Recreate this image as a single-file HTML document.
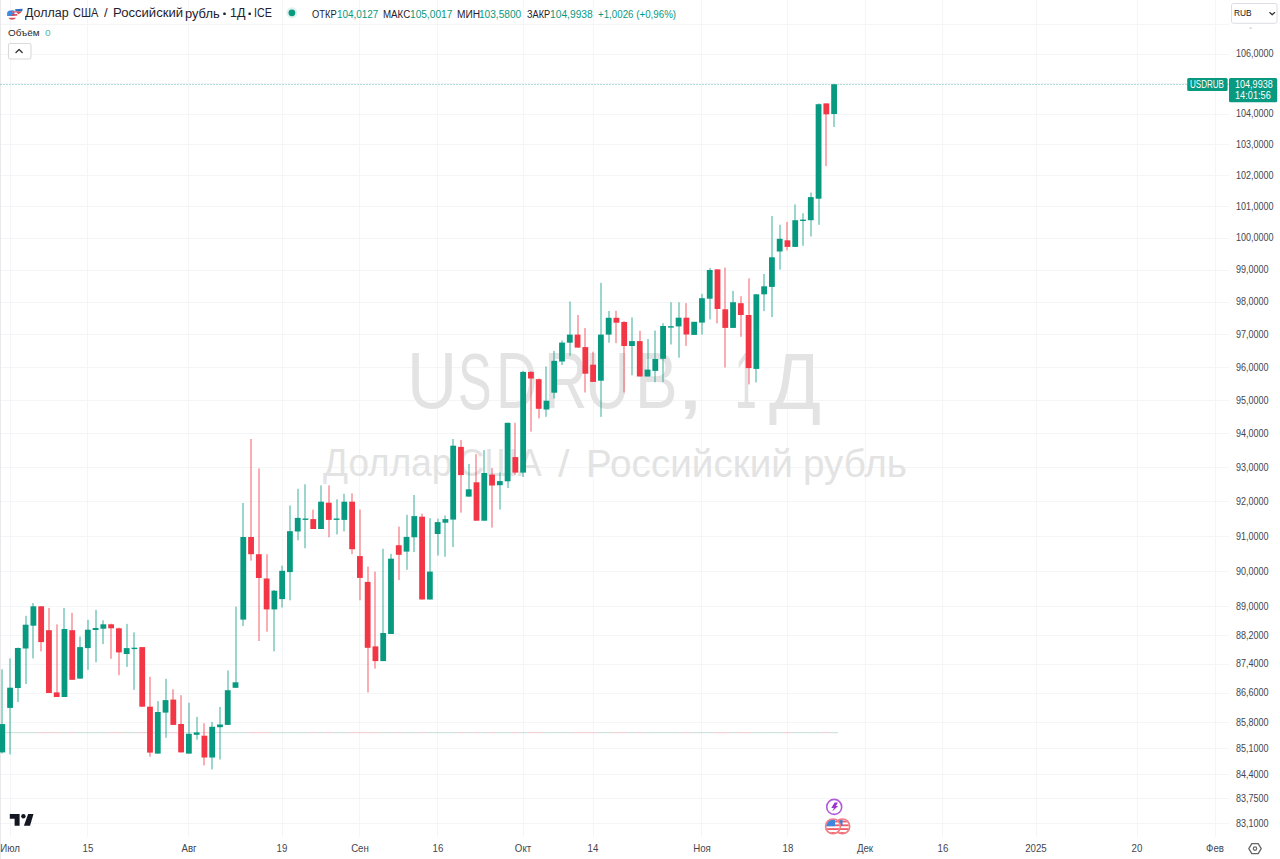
<!DOCTYPE html>
<html><head><meta charset="utf-8">
<style>
html,body{margin:0;padding:0;width:1280px;height:859px;overflow:hidden;background:#fff;}
body{position:relative;font-family:"Liberation Sans",sans-serif;color:#131722;}
svg{position:absolute;left:0;top:0;}
div{position:absolute;white-space:nowrap;}
.pl{left:1236px;height:12px;line-height:12px;font-size:11px;color:#434651;transform-origin:0 50%;transform:scaleX(0.82);}
.tl{top:842px;width:60px;text-align:center;font-size:11px;line-height:13px;color:#434651;transform:scaleX(0.88);}
.wm{color:#e3e3e3;transform-origin:0 0;}
.title{left:25px;top:6.2px;font-size:12.5px;line-height:15px;color:#222;transform-origin:0 0;transform:scaleX(0.99);}
.tok{transform-origin:0 0;}
.lab{color:#222} .val{color:#089981}
</style></head><body>
<svg width="1280" height="859" viewBox="0 0 1280 859">
<line x1="0" y1="24.5" x2="1229" y2="24.5" stroke="#f4f5f7" stroke-width="1"/>
<line x1="0" y1="54.5" x2="1229" y2="54.5" stroke="#f4f5f7" stroke-width="1"/>
<line x1="0" y1="83.5" x2="1229" y2="83.5" stroke="#f4f5f7" stroke-width="1"/>
<line x1="0" y1="114.5" x2="1229" y2="114.5" stroke="#f4f5f7" stroke-width="1"/>
<line x1="0" y1="144.5" x2="1229" y2="144.5" stroke="#f4f5f7" stroke-width="1"/>
<line x1="0" y1="175.5" x2="1229" y2="175.5" stroke="#f4f5f7" stroke-width="1"/>
<line x1="0" y1="206.5" x2="1229" y2="206.5" stroke="#f4f5f7" stroke-width="1"/>
<line x1="0" y1="238.5" x2="1229" y2="238.5" stroke="#f4f5f7" stroke-width="1"/>
<line x1="0" y1="270.5" x2="1229" y2="270.5" stroke="#f4f5f7" stroke-width="1"/>
<line x1="0" y1="302.5" x2="1229" y2="302.5" stroke="#f4f5f7" stroke-width="1"/>
<line x1="0" y1="334.5" x2="1229" y2="334.5" stroke="#f4f5f7" stroke-width="1"/>
<line x1="0" y1="367.5" x2="1229" y2="367.5" stroke="#f4f5f7" stroke-width="1"/>
<line x1="0" y1="400.5" x2="1229" y2="400.5" stroke="#f4f5f7" stroke-width="1"/>
<line x1="0" y1="433.5" x2="1229" y2="433.5" stroke="#f4f5f7" stroke-width="1"/>
<line x1="0" y1="467.5" x2="1229" y2="467.5" stroke="#f4f5f7" stroke-width="1"/>
<line x1="0" y1="501.5" x2="1229" y2="501.5" stroke="#f4f5f7" stroke-width="1"/>
<line x1="0" y1="536.5" x2="1229" y2="536.5" stroke="#f4f5f7" stroke-width="1"/>
<line x1="0" y1="571.5" x2="1229" y2="571.5" stroke="#f4f5f7" stroke-width="1"/>
<line x1="0" y1="606.5" x2="1229" y2="606.5" stroke="#f4f5f7" stroke-width="1"/>
<line x1="0" y1="635.5" x2="1229" y2="635.5" stroke="#f4f5f7" stroke-width="1"/>
<line x1="0" y1="664.5" x2="1229" y2="664.5" stroke="#f4f5f7" stroke-width="1"/>
<line x1="0" y1="693.5" x2="1229" y2="693.5" stroke="#f4f5f7" stroke-width="1"/>
<line x1="0" y1="722.5" x2="1229" y2="722.5" stroke="#f4f5f7" stroke-width="1"/>
<line x1="0" y1="748.5" x2="1229" y2="748.5" stroke="#f4f5f7" stroke-width="1"/>
<line x1="0" y1="774.5" x2="1229" y2="774.5" stroke="#f4f5f7" stroke-width="1"/>
<line x1="0" y1="798.5" x2="1229" y2="798.5" stroke="#f4f5f7" stroke-width="1"/>
<line x1="0" y1="823.5" x2="1229" y2="823.5" stroke="#f4f5f7" stroke-width="1"/>
<line x1="10.5" y1="0" x2="10.5" y2="837" stroke="#f4f5f7" stroke-width="1"/>
<line x1="87.5" y1="0" x2="87.5" y2="837" stroke="#f4f5f7" stroke-width="1"/>
<line x1="188.5" y1="0" x2="188.5" y2="837" stroke="#f4f5f7" stroke-width="1"/>
<line x1="282.5" y1="0" x2="282.5" y2="837" stroke="#f4f5f7" stroke-width="1"/>
<line x1="359.5" y1="0" x2="359.5" y2="837" stroke="#f4f5f7" stroke-width="1"/>
<line x1="437.5" y1="0" x2="437.5" y2="837" stroke="#f4f5f7" stroke-width="1"/>
<line x1="523.5" y1="0" x2="523.5" y2="837" stroke="#f4f5f7" stroke-width="1"/>
<line x1="593.5" y1="0" x2="593.5" y2="837" stroke="#f4f5f7" stroke-width="1"/>
<line x1="701.5" y1="0" x2="701.5" y2="837" stroke="#f4f5f7" stroke-width="1"/>
<line x1="787.5" y1="0" x2="787.5" y2="837" stroke="#f4f5f7" stroke-width="1"/>
<line x1="865.5" y1="0" x2="865.5" y2="837" stroke="#f4f5f7" stroke-width="1"/>
<line x1="942.5" y1="0" x2="942.5" y2="837" stroke="#f4f5f7" stroke-width="1"/>
<line x1="1036.5" y1="0" x2="1036.5" y2="837" stroke="#f4f5f7" stroke-width="1"/>
<line x1="1137.5" y1="0" x2="1137.5" y2="837" stroke="#f4f5f7" stroke-width="1"/>
<line x1="1215.5" y1="0" x2="1215.5" y2="837" stroke="#f4f5f7" stroke-width="1"/>
<line x1="0.5" y1="0" x2="0.5" y2="859" stroke="#e9e9ec" stroke-width="1"/>
</svg>
<div class="wm" style="left:406.5px;top:329.3px;font-size:80px;line-height:104px;transform:scaleX(0.867)">U</div>
<div class="wm" style="left:457.5px;top:329.5px;font-size:80px;line-height:104px;transform:scaleX(0.630)">S</div>
<div class="wm" style="left:495.7px;top:329.3px;font-size:80px;line-height:104px;transform:scaleX(0.717)">D</div>
<div class="wm" style="left:543.9px;top:329.3px;font-size:80px;line-height:104px;transform:scaleX(0.750)">R</div>
<div class="wm" style="left:585.0px;top:329.3px;font-size:80px;line-height:104px;transform:scaleX(0.780)">U</div>
<div class="wm" style="left:634.9px;top:329.3px;font-size:80px;line-height:104px;transform:scaleX(0.798)">B</div>
<div class="wm" style="left:675.4px;top:330.0px;font-size:80px;line-height:104px;transform:scaleX(1.375)">,</div>
<div class="wm" style="left:735.1px;top:329.3px;font-size:80px;line-height:104px;transform:scaleX(0.486)">1</div>
<div class="wm" style="left:768.9px;top:330.0px;font-size:80px;line-height:104px;transform:scaleX(0.960)">Д</div>
<div class="wm" style="left:322.9px;top:438.2px;font-size:39px;line-height:50px;transform:scaleX(0.946)">Доллар</div>
<div class="wm" style="left:458.1px;top:438.2px;font-size:39px;line-height:50px;transform:scaleX(0.932)">США</div>
<div class="wm" style="left:558.4px;top:438.5px;font-size:39px;line-height:50px;transform:scaleX(1.064)">/</div>
<div class="wm" style="left:585.9px;top:438.5px;font-size:39px;line-height:50px;transform:scaleX(0.991)">Российский</div>
<div class="wm" style="left:803.0px;top:438.5px;font-size:39px;line-height:50px;transform:scaleX(0.990)">рубль</div>
<svg width="1280" height="859" viewBox="0 0 1280 859">
<rect x="-1.61" y="732" width="7.8" height="1.2" fill="#d0e2dd"/>
<rect x="6.16" y="732" width="7.8" height="1.2" fill="#d0e2dd"/>
<rect x="13.93" y="732" width="7.8" height="1.2" fill="#d0e2dd"/>
<rect x="21.71" y="732" width="7.8" height="1.2" fill="#d0e2dd"/>
<rect x="29.48" y="732" width="7.8" height="1.2" fill="#d0e2dd"/>
<rect x="37.26" y="732" width="7.8" height="1.2" fill="#f3d2d5"/>
<rect x="45.03" y="732" width="7.8" height="1.2" fill="#f3d2d5"/>
<rect x="52.80" y="732" width="7.8" height="1.2" fill="#f3d2d5"/>
<rect x="60.58" y="732" width="7.8" height="1.2" fill="#d0e2dd"/>
<rect x="68.35" y="732" width="7.8" height="1.2" fill="#f3d2d5"/>
<rect x="76.13" y="732" width="7.8" height="1.2" fill="#d0e2dd"/>
<rect x="83.90" y="732" width="7.8" height="1.2" fill="#d0e2dd"/>
<rect x="91.67" y="732" width="7.8" height="1.2" fill="#d0e2dd"/>
<rect x="99.45" y="732" width="7.8" height="1.2" fill="#d0e2dd"/>
<rect x="107.22" y="732" width="7.8" height="1.2" fill="#f3d2d5"/>
<rect x="115.00" y="732" width="7.8" height="1.2" fill="#f3d2d5"/>
<rect x="122.77" y="732" width="7.8" height="1.2" fill="#d0e2dd"/>
<rect x="130.54" y="732" width="7.8" height="1.2" fill="#d0e2dd"/>
<rect x="138.32" y="732" width="7.8" height="1.2" fill="#f3d2d5"/>
<rect x="146.09" y="732" width="7.8" height="1.2" fill="#f3d2d5"/>
<rect x="153.87" y="732" width="7.8" height="1.2" fill="#d0e2dd"/>
<rect x="161.64" y="732" width="7.8" height="1.2" fill="#d0e2dd"/>
<rect x="169.41" y="732" width="7.8" height="1.2" fill="#f3d2d5"/>
<rect x="177.19" y="732" width="7.8" height="1.2" fill="#f3d2d5"/>
<rect x="184.96" y="732" width="7.8" height="1.2" fill="#d0e2dd"/>
<rect x="192.74" y="732" width="7.8" height="1.2" fill="#d0e2dd"/>
<rect x="200.51" y="732" width="7.8" height="1.2" fill="#f3d2d5"/>
<rect x="208.28" y="732" width="7.8" height="1.2" fill="#d0e2dd"/>
<rect x="216.06" y="732" width="7.8" height="1.2" fill="#d0e2dd"/>
<rect x="223.83" y="732" width="7.8" height="1.2" fill="#d0e2dd"/>
<rect x="231.61" y="732" width="7.8" height="1.2" fill="#d0e2dd"/>
<rect x="239.38" y="732" width="7.8" height="1.2" fill="#d0e2dd"/>
<rect x="247.15" y="732" width="7.8" height="1.2" fill="#f3d2d5"/>
<rect x="254.93" y="732" width="7.8" height="1.2" fill="#f3d2d5"/>
<rect x="262.70" y="732" width="7.8" height="1.2" fill="#f3d2d5"/>
<rect x="270.48" y="732" width="7.8" height="1.2" fill="#d0e2dd"/>
<rect x="278.25" y="732" width="7.8" height="1.2" fill="#d0e2dd"/>
<rect x="286.02" y="732" width="7.8" height="1.2" fill="#d0e2dd"/>
<rect x="293.80" y="732" width="7.8" height="1.2" fill="#d0e2dd"/>
<rect x="301.57" y="732" width="7.8" height="1.2" fill="#d0e2dd"/>
<rect x="309.35" y="732" width="7.8" height="1.2" fill="#f3d2d5"/>
<rect x="317.12" y="732" width="7.8" height="1.2" fill="#d0e2dd"/>
<rect x="324.89" y="732" width="7.8" height="1.2" fill="#f3d2d5"/>
<rect x="332.67" y="732" width="7.8" height="1.2" fill="#d0e2dd"/>
<rect x="340.44" y="732" width="7.8" height="1.2" fill="#d0e2dd"/>
<rect x="348.22" y="732" width="7.8" height="1.2" fill="#f3d2d5"/>
<rect x="355.99" y="732" width="7.8" height="1.2" fill="#f3d2d5"/>
<rect x="363.76" y="732" width="7.8" height="1.2" fill="#f3d2d5"/>
<rect x="371.54" y="732" width="7.8" height="1.2" fill="#f3d2d5"/>
<rect x="379.31" y="732" width="7.8" height="1.2" fill="#d0e2dd"/>
<rect x="387.09" y="732" width="7.8" height="1.2" fill="#d0e2dd"/>
<rect x="394.86" y="732" width="7.8" height="1.2" fill="#f3d2d5"/>
<rect x="402.63" y="732" width="7.8" height="1.2" fill="#d0e2dd"/>
<rect x="410.41" y="732" width="7.8" height="1.2" fill="#d0e2dd"/>
<rect x="418.18" y="732" width="7.8" height="1.2" fill="#f3d2d5"/>
<rect x="425.96" y="732" width="7.8" height="1.2" fill="#d0e2dd"/>
<rect x="433.73" y="732" width="7.8" height="1.2" fill="#d0e2dd"/>
<rect x="441.50" y="732" width="7.8" height="1.2" fill="#d0e2dd"/>
<rect x="449.28" y="732" width="7.8" height="1.2" fill="#d0e2dd"/>
<rect x="457.05" y="732" width="7.8" height="1.2" fill="#f3d2d5"/>
<rect x="464.83" y="732" width="7.8" height="1.2" fill="#d0e2dd"/>
<rect x="472.60" y="732" width="7.8" height="1.2" fill="#f3d2d5"/>
<rect x="480.37" y="732" width="7.8" height="1.2" fill="#d0e2dd"/>
<rect x="488.15" y="732" width="7.8" height="1.2" fill="#f3d2d5"/>
<rect x="495.92" y="732" width="7.8" height="1.2" fill="#d0e2dd"/>
<rect x="503.70" y="732" width="7.8" height="1.2" fill="#d0e2dd"/>
<rect x="511.47" y="732" width="7.8" height="1.2" fill="#f3d2d5"/>
<rect x="519.24" y="732" width="7.8" height="1.2" fill="#d0e2dd"/>
<rect x="527.02" y="732" width="7.8" height="1.2" fill="#f3d2d5"/>
<rect x="534.79" y="732" width="7.8" height="1.2" fill="#f3d2d5"/>
<rect x="542.57" y="732" width="7.8" height="1.2" fill="#d0e2dd"/>
<rect x="550.34" y="732" width="7.8" height="1.2" fill="#d0e2dd"/>
<rect x="558.11" y="732" width="7.8" height="1.2" fill="#d0e2dd"/>
<rect x="565.89" y="732" width="7.8" height="1.2" fill="#d0e2dd"/>
<rect x="573.66" y="732" width="7.8" height="1.2" fill="#f3d2d5"/>
<rect x="581.44" y="732" width="7.8" height="1.2" fill="#f3d2d5"/>
<rect x="589.21" y="732" width="7.8" height="1.2" fill="#f3d2d5"/>
<rect x="596.98" y="732" width="7.8" height="1.2" fill="#d0e2dd"/>
<rect x="604.76" y="732" width="7.8" height="1.2" fill="#d0e2dd"/>
<rect x="612.53" y="732" width="7.8" height="1.2" fill="#f3d2d5"/>
<rect x="620.31" y="732" width="7.8" height="1.2" fill="#f3d2d5"/>
<rect x="628.08" y="732" width="7.8" height="1.2" fill="#d0e2dd"/>
<rect x="635.85" y="732" width="7.8" height="1.2" fill="#f3d2d5"/>
<rect x="643.63" y="732" width="7.8" height="1.2" fill="#d0e2dd"/>
<rect x="651.40" y="732" width="7.8" height="1.2" fill="#d0e2dd"/>
<rect x="659.18" y="732" width="7.8" height="1.2" fill="#d0e2dd"/>
<rect x="666.95" y="732" width="7.8" height="1.2" fill="#d0e2dd"/>
<rect x="674.72" y="732" width="7.8" height="1.2" fill="#d0e2dd"/>
<rect x="682.50" y="732" width="7.8" height="1.2" fill="#f3d2d5"/>
<rect x="690.27" y="732" width="7.8" height="1.2" fill="#d0e2dd"/>
<rect x="698.05" y="732" width="7.8" height="1.2" fill="#d0e2dd"/>
<rect x="705.82" y="732" width="7.8" height="1.2" fill="#d0e2dd"/>
<rect x="713.59" y="732" width="7.8" height="1.2" fill="#f3d2d5"/>
<rect x="721.37" y="732" width="7.8" height="1.2" fill="#f3d2d5"/>
<rect x="729.14" y="732" width="7.8" height="1.2" fill="#d0e2dd"/>
<rect x="736.92" y="732" width="7.8" height="1.2" fill="#f3d2d5"/>
<rect x="744.69" y="732" width="7.8" height="1.2" fill="#f3d2d5"/>
<rect x="752.46" y="732" width="7.8" height="1.2" fill="#d0e2dd"/>
<rect x="760.24" y="732" width="7.8" height="1.2" fill="#d0e2dd"/>
<rect x="768.01" y="732" width="7.8" height="1.2" fill="#d0e2dd"/>
<rect x="775.79" y="732" width="7.8" height="1.2" fill="#d0e2dd"/>
<rect x="783.56" y="732" width="7.8" height="1.2" fill="#f3d2d5"/>
<rect x="791.33" y="732" width="7.8" height="1.2" fill="#d0e2dd"/>
<rect x="799.11" y="732" width="7.8" height="1.2" fill="#d0e2dd"/>
<rect x="806.88" y="732" width="7.8" height="1.2" fill="#d0e2dd"/>
<rect x="814.66" y="732" width="7.8" height="1.2" fill="#d0e2dd"/>
<rect x="822.43" y="732" width="7.8" height="1.2" fill="#f3d2d5"/>
<rect x="830.20" y="732" width="7.8" height="1.2" fill="#d0e2dd"/>
<line x1="0" y1="84.5" x2="1229" y2="84.5" stroke="#089981" stroke-width="1" stroke-dasharray="2 1" opacity="0.3"/>
<line x1="2" y1="669.3" x2="2" y2="753.4" stroke="#089981" stroke-width="1" opacity="0.8"/>
<rect x="-0.61" y="724.1" width="5.8" height="28.30" fill="#089981"/>
<line x1="10" y1="658.4" x2="10" y2="754.4" stroke="#089981" stroke-width="1" opacity="0.8"/>
<rect x="7.16" y="687.7" width="5.8" height="20.20" fill="#089981"/>
<line x1="18" y1="647.5" x2="18" y2="702.0" stroke="#089981" stroke-width="1" opacity="0.8"/>
<rect x="14.93" y="648.0" width="5.8" height="40.00" fill="#089981"/>
<line x1="26" y1="615.8" x2="26" y2="684.0" stroke="#089981" stroke-width="1" opacity="0.8"/>
<rect x="22.71" y="624.7" width="5.8" height="23.80" fill="#089981"/>
<line x1="33" y1="603.0" x2="33" y2="658.4" stroke="#089981" stroke-width="1" opacity="0.8"/>
<rect x="30.48" y="606.3" width="5.8" height="19.40" fill="#089981"/>
<line x1="41" y1="606.0" x2="41" y2="651.4" stroke="#f23645" stroke-width="1" opacity="0.8"/>
<rect x="38.26" y="606.3" width="5.8" height="35.80" fill="#f23645"/>
<line x1="49" y1="607.9" x2="49" y2="693.0" stroke="#f23645" stroke-width="1" opacity="0.8"/>
<rect x="46.03" y="630.2" width="5.8" height="62.80" fill="#f23645"/>
<line x1="57" y1="624.3" x2="57" y2="697.0" stroke="#f23645" stroke-width="1" opacity="0.8"/>
<rect x="53.80" y="692.4" width="5.8" height="4.60" fill="#f23645"/>
<line x1="64" y1="607.9" x2="64" y2="697.0" stroke="#089981" stroke-width="1" opacity="0.8"/>
<rect x="61.58" y="629.0" width="5.8" height="68.00" fill="#089981"/>
<line x1="72" y1="612.8" x2="72" y2="679.8" stroke="#f23645" stroke-width="1" opacity="0.8"/>
<rect x="69.35" y="630.2" width="5.8" height="49.60" fill="#f23645"/>
<line x1="80" y1="636.6" x2="80" y2="678.6" stroke="#089981" stroke-width="1" opacity="0.8"/>
<rect x="77.13" y="647.1" width="5.8" height="31.50" fill="#089981"/>
<line x1="88" y1="619.8" x2="88" y2="669.9" stroke="#089981" stroke-width="1" opacity="0.8"/>
<rect x="84.90" y="629.7" width="5.8" height="18.40" fill="#089981"/>
<line x1="96" y1="609.9" x2="96" y2="662.3" stroke="#089981" stroke-width="1" opacity="0.8"/>
<rect x="92.67" y="628.0" width="5.8" height="2.00" fill="#089981"/>
<line x1="103" y1="620.3" x2="103" y2="644.1" stroke="#089981" stroke-width="1" opacity="0.8"/>
<rect x="100.45" y="624.3" width="5.8" height="4.40" fill="#089981"/>
<line x1="111" y1="623.7" x2="111" y2="658.8" stroke="#f23645" stroke-width="1" opacity="0.8"/>
<rect x="108.22" y="624.3" width="5.8" height="4.00" fill="#f23645"/>
<line x1="119" y1="627.7" x2="119" y2="675.2" stroke="#f23645" stroke-width="1" opacity="0.8"/>
<rect x="116.00" y="628.3" width="5.8" height="24.10" fill="#f23645"/>
<line x1="127" y1="623.9" x2="127" y2="666.9" stroke="#089981" stroke-width="1" opacity="0.8"/>
<rect x="123.77" y="648.1" width="5.8" height="5.90" fill="#089981"/>
<line x1="134" y1="632.4" x2="134" y2="689.9" stroke="#089981" stroke-width="1" opacity="0.8"/>
<rect x="131.54" y="647.7" width="5.8" height="1.40" fill="#089981"/>
<line x1="142" y1="647.1" x2="142" y2="706.7" stroke="#f23645" stroke-width="1" opacity="0.8"/>
<rect x="139.32" y="647.1" width="5.8" height="59.60" fill="#f23645"/>
<line x1="150" y1="676.8" x2="150" y2="756.6" stroke="#f23645" stroke-width="1" opacity="0.8"/>
<rect x="147.09" y="706.7" width="5.8" height="45.90" fill="#f23645"/>
<line x1="158" y1="701.1" x2="158" y2="753.6" stroke="#089981" stroke-width="1" opacity="0.8"/>
<rect x="154.87" y="712.0" width="5.8" height="41.60" fill="#089981"/>
<line x1="166" y1="678.8" x2="166" y2="737.8" stroke="#089981" stroke-width="1" opacity="0.8"/>
<rect x="162.64" y="700.1" width="5.8" height="12.50" fill="#089981"/>
<line x1="173" y1="689.3" x2="173" y2="724.9" stroke="#f23645" stroke-width="1" opacity="0.8"/>
<rect x="170.41" y="699.6" width="5.8" height="25.30" fill="#f23645"/>
<line x1="181" y1="695.2" x2="181" y2="752.4" stroke="#f23645" stroke-width="1" opacity="0.8"/>
<rect x="178.19" y="724.0" width="5.8" height="28.40" fill="#f23645"/>
<line x1="189" y1="702.7" x2="189" y2="753.6" stroke="#089981" stroke-width="1" opacity="0.8"/>
<rect x="185.96" y="733.8" width="5.8" height="19.80" fill="#089981"/>
<line x1="197" y1="716.9" x2="197" y2="739.7" stroke="#089981" stroke-width="1" opacity="0.8"/>
<rect x="193.74" y="732.4" width="5.8" height="2.40" fill="#089981"/>
<line x1="204" y1="723.3" x2="204" y2="765.4" stroke="#f23645" stroke-width="1" opacity="0.8"/>
<rect x="201.51" y="735.7" width="5.8" height="21.80" fill="#f23645"/>
<line x1="212" y1="721.9" x2="212" y2="769.4" stroke="#089981" stroke-width="1" opacity="0.8"/>
<rect x="209.28" y="726.8" width="5.8" height="30.70" fill="#089981"/>
<line x1="220" y1="707.0" x2="220" y2="759.5" stroke="#089981" stroke-width="1" opacity="0.8"/>
<rect x="217.06" y="724.5" width="5.8" height="2.70" fill="#089981"/>
<line x1="228" y1="670.4" x2="228" y2="724.9" stroke="#089981" stroke-width="1" opacity="0.8"/>
<rect x="224.83" y="690.2" width="5.8" height="34.70" fill="#089981"/>
<line x1="236" y1="606.7" x2="236" y2="687.8" stroke="#089981" stroke-width="1" opacity="0.8"/>
<rect x="232.61" y="682.3" width="5.8" height="5.50" fill="#089981"/>
<line x1="243" y1="503.0" x2="243" y2="626.0" stroke="#089981" stroke-width="1" opacity="0.8"/>
<rect x="240.38" y="537.0" width="5.8" height="82.60" fill="#089981"/>
<line x1="251" y1="439.0" x2="251" y2="560.6" stroke="#f23645" stroke-width="1" opacity="0.8"/>
<rect x="248.15" y="537.0" width="5.8" height="17.20" fill="#f23645"/>
<line x1="259" y1="468.4" x2="259" y2="641.0" stroke="#f23645" stroke-width="1" opacity="0.8"/>
<rect x="255.93" y="554.2" width="5.8" height="23.80" fill="#f23645"/>
<line x1="267" y1="554.2" x2="267" y2="631.7" stroke="#f23645" stroke-width="1" opacity="0.8"/>
<rect x="263.70" y="578.5" width="5.8" height="30.90" fill="#f23645"/>
<line x1="274" y1="590.0" x2="274" y2="651.3" stroke="#089981" stroke-width="1" opacity="0.8"/>
<rect x="271.48" y="590.7" width="5.8" height="18.70" fill="#089981"/>
<line x1="282" y1="565.7" x2="282" y2="607.5" stroke="#089981" stroke-width="1" opacity="0.8"/>
<rect x="279.25" y="570.8" width="5.8" height="28.30" fill="#089981"/>
<line x1="290" y1="505.5" x2="290" y2="600.3" stroke="#089981" stroke-width="1" opacity="0.8"/>
<rect x="287.02" y="531.2" width="5.8" height="40.90" fill="#089981"/>
<line x1="298" y1="488.8" x2="298" y2="540.3" stroke="#089981" stroke-width="1" opacity="0.8"/>
<rect x="294.80" y="517.9" width="5.8" height="13.60" fill="#089981"/>
<line x1="305" y1="484.3" x2="305" y2="548.2" stroke="#089981" stroke-width="1" opacity="0.8"/>
<rect x="302.57" y="518.5" width="5.8" height="1.40" fill="#089981"/>
<line x1="313" y1="509.6" x2="313" y2="529.0" stroke="#f23645" stroke-width="1" opacity="0.8"/>
<rect x="310.35" y="519.1" width="5.8" height="9.90" fill="#f23645"/>
<line x1="321" y1="485.4" x2="321" y2="529.0" stroke="#089981" stroke-width="1" opacity="0.8"/>
<rect x="318.12" y="501.7" width="5.8" height="27.30" fill="#089981"/>
<line x1="329" y1="485.4" x2="329" y2="537.3" stroke="#f23645" stroke-width="1" opacity="0.8"/>
<rect x="325.89" y="502.7" width="5.8" height="17.20" fill="#f23645"/>
<line x1="337" y1="499.3" x2="337" y2="534.4" stroke="#089981" stroke-width="1" opacity="0.8"/>
<rect x="333.67" y="518.5" width="5.8" height="1.40" fill="#089981"/>
<line x1="344" y1="493.8" x2="344" y2="531.4" stroke="#089981" stroke-width="1" opacity="0.8"/>
<rect x="341.44" y="501.7" width="5.8" height="18.20" fill="#089981"/>
<line x1="352" y1="493.4" x2="352" y2="554.2" stroke="#f23645" stroke-width="1" opacity="0.8"/>
<rect x="349.22" y="501.7" width="5.8" height="47.50" fill="#f23645"/>
<line x1="360" y1="509.6" x2="360" y2="600.3" stroke="#f23645" stroke-width="1" opacity="0.8"/>
<rect x="356.99" y="556.1" width="5.8" height="21.80" fill="#f23645"/>
<line x1="368" y1="566.6" x2="368" y2="692.4" stroke="#f23645" stroke-width="1" opacity="0.8"/>
<rect x="364.76" y="581.9" width="5.8" height="65.90" fill="#f23645"/>
<line x1="375" y1="571.6" x2="375" y2="668.6" stroke="#f23645" stroke-width="1" opacity="0.8"/>
<rect x="372.54" y="646.4" width="5.8" height="14.70" fill="#f23645"/>
<line x1="383" y1="548.8" x2="383" y2="661.1" stroke="#089981" stroke-width="1" opacity="0.8"/>
<rect x="380.31" y="633.0" width="5.8" height="28.10" fill="#089981"/>
<line x1="391" y1="553.8" x2="391" y2="634.0" stroke="#089981" stroke-width="1" opacity="0.8"/>
<rect x="388.09" y="558.7" width="5.8" height="75.30" fill="#089981"/>
<line x1="399" y1="526.6" x2="399" y2="580.1" stroke="#f23645" stroke-width="1" opacity="0.8"/>
<rect x="395.86" y="545.2" width="5.8" height="9.60" fill="#f23645"/>
<line x1="407" y1="514.8" x2="407" y2="569.8" stroke="#089981" stroke-width="1" opacity="0.8"/>
<rect x="403.63" y="536.9" width="5.8" height="14.70" fill="#089981"/>
<line x1="414" y1="495.0" x2="414" y2="552.0" stroke="#089981" stroke-width="1" opacity="0.8"/>
<rect x="411.41" y="516.1" width="5.8" height="21.20" fill="#089981"/>
<line x1="422" y1="513.6" x2="422" y2="599.5" stroke="#f23645" stroke-width="1" opacity="0.8"/>
<rect x="419.18" y="516.7" width="5.8" height="82.80" fill="#f23645"/>
<line x1="430" y1="518.1" x2="430" y2="599.5" stroke="#089981" stroke-width="1" opacity="0.8"/>
<rect x="426.96" y="571.6" width="5.8" height="27.90" fill="#089981"/>
<line x1="438" y1="518.7" x2="438" y2="555.5" stroke="#089981" stroke-width="1" opacity="0.8"/>
<rect x="434.73" y="522.1" width="5.8" height="11.90" fill="#089981"/>
<line x1="445" y1="515.5" x2="445" y2="556.7" stroke="#089981" stroke-width="1" opacity="0.8"/>
<rect x="442.50" y="519.1" width="5.8" height="3.60" fill="#089981"/>
<line x1="453" y1="439.0" x2="453" y2="547.0" stroke="#089981" stroke-width="1" opacity="0.8"/>
<rect x="450.28" y="445.7" width="5.8" height="73.90" fill="#089981"/>
<line x1="461" y1="439.9" x2="461" y2="512.6" stroke="#f23645" stroke-width="1" opacity="0.8"/>
<rect x="458.05" y="446.9" width="5.8" height="28.20" fill="#f23645"/>
<line x1="469" y1="464.0" x2="469" y2="496.6" stroke="#089981" stroke-width="1" opacity="0.8"/>
<rect x="465.83" y="489.3" width="5.8" height="7.30" fill="#089981"/>
<line x1="476" y1="454.2" x2="476" y2="520.7" stroke="#f23645" stroke-width="1" opacity="0.8"/>
<rect x="473.60" y="482.3" width="5.8" height="38.40" fill="#f23645"/>
<line x1="484" y1="450.1" x2="484" y2="520.7" stroke="#089981" stroke-width="1" opacity="0.8"/>
<rect x="481.37" y="473.0" width="5.8" height="47.70" fill="#089981"/>
<line x1="492" y1="468.1" x2="492" y2="527.6" stroke="#f23645" stroke-width="1" opacity="0.8"/>
<rect x="489.15" y="474.6" width="5.8" height="10.90" fill="#f23645"/>
<line x1="500" y1="472.5" x2="500" y2="509.6" stroke="#089981" stroke-width="1" opacity="0.8"/>
<rect x="496.92" y="481.1" width="5.8" height="4.10" fill="#089981"/>
<line x1="508" y1="422.8" x2="508" y2="488.0" stroke="#089981" stroke-width="1" opacity="0.8"/>
<rect x="504.70" y="422.8" width="5.8" height="58.50" fill="#089981"/>
<line x1="515" y1="422.8" x2="515" y2="474.8" stroke="#f23645" stroke-width="1" opacity="0.8"/>
<rect x="512.47" y="457.1" width="5.8" height="15.50" fill="#f23645"/>
<line x1="523" y1="370.8" x2="523" y2="477.0" stroke="#089981" stroke-width="1" opacity="0.8"/>
<rect x="520.24" y="371.9" width="5.8" height="100.70" fill="#089981"/>
<line x1="531" y1="371.2" x2="531" y2="431.6" stroke="#f23645" stroke-width="1" opacity="0.8"/>
<rect x="528.02" y="371.9" width="5.8" height="6.60" fill="#f23645"/>
<line x1="539" y1="378.5" x2="539" y2="418.4" stroke="#f23645" stroke-width="1" opacity="0.8"/>
<rect x="535.79" y="379.2" width="5.8" height="29.60" fill="#f23645"/>
<line x1="546" y1="366.4" x2="546" y2="416.8" stroke="#089981" stroke-width="1" opacity="0.8"/>
<rect x="543.57" y="400.7" width="5.8" height="8.80" fill="#089981"/>
<line x1="554" y1="350.9" x2="554" y2="398.5" stroke="#089981" stroke-width="1" opacity="0.8"/>
<rect x="551.34" y="360.8" width="5.8" height="31.90" fill="#089981"/>
<line x1="562" y1="340.6" x2="562" y2="365.0" stroke="#089981" stroke-width="1" opacity="0.8"/>
<rect x="559.11" y="342.6" width="5.8" height="18.90" fill="#089981"/>
<line x1="570" y1="301.5" x2="570" y2="355.8" stroke="#089981" stroke-width="1" opacity="0.8"/>
<rect x="566.89" y="334.6" width="5.8" height="8.10" fill="#089981"/>
<line x1="578" y1="315.0" x2="578" y2="347.6" stroke="#f23645" stroke-width="1" opacity="0.8"/>
<rect x="574.66" y="334.6" width="5.8" height="13.00" fill="#f23645"/>
<line x1="585" y1="328.1" x2="585" y2="392.5" stroke="#f23645" stroke-width="1" opacity="0.8"/>
<rect x="582.44" y="347.1" width="5.8" height="26.60" fill="#f23645"/>
<line x1="593" y1="351.7" x2="593" y2="381.9" stroke="#f23645" stroke-width="1" opacity="0.8"/>
<rect x="590.21" y="364.7" width="5.8" height="17.20" fill="#f23645"/>
<line x1="601" y1="282.9" x2="601" y2="416.9" stroke="#089981" stroke-width="1" opacity="0.8"/>
<rect x="597.98" y="334.6" width="5.8" height="46.10" fill="#089981"/>
<line x1="609" y1="311.0" x2="609" y2="342.7" stroke="#089981" stroke-width="1" opacity="0.8"/>
<rect x="605.76" y="317.8" width="5.8" height="16.80" fill="#089981"/>
<line x1="616" y1="310.8" x2="616" y2="343.2" stroke="#f23645" stroke-width="1" opacity="0.8"/>
<rect x="613.53" y="317.8" width="5.8" height="4.90" fill="#f23645"/>
<line x1="624" y1="321.1" x2="624" y2="392.5" stroke="#f23645" stroke-width="1" opacity="0.8"/>
<rect x="621.31" y="322.0" width="5.8" height="24.00" fill="#f23645"/>
<line x1="632" y1="317.5" x2="632" y2="375.3" stroke="#089981" stroke-width="1" opacity="0.8"/>
<rect x="629.08" y="341.1" width="5.8" height="4.90" fill="#089981"/>
<line x1="640" y1="330.8" x2="640" y2="376.5" stroke="#f23645" stroke-width="1" opacity="0.8"/>
<rect x="636.85" y="341.1" width="5.8" height="35.40" fill="#f23645"/>
<line x1="648" y1="339.0" x2="648" y2="376.5" stroke="#089981" stroke-width="1" opacity="0.8"/>
<rect x="644.63" y="369.6" width="5.8" height="6.90" fill="#089981"/>
<line x1="655" y1="330.5" x2="655" y2="382.3" stroke="#089981" stroke-width="1" opacity="0.8"/>
<rect x="652.40" y="359.0" width="5.8" height="11.90" fill="#089981"/>
<line x1="663" y1="323.2" x2="663" y2="381.9" stroke="#089981" stroke-width="1" opacity="0.8"/>
<rect x="660.18" y="326.0" width="5.8" height="32.80" fill="#089981"/>
<line x1="671" y1="302.2" x2="671" y2="344.5" stroke="#089981" stroke-width="1" opacity="0.8"/>
<rect x="667.95" y="326.2" width="5.8" height="1.40" fill="#089981"/>
<line x1="679" y1="302.3" x2="679" y2="357.7" stroke="#089981" stroke-width="1" opacity="0.8"/>
<rect x="675.72" y="317.7" width="5.8" height="8.70" fill="#089981"/>
<line x1="686" y1="303.1" x2="686" y2="345.9" stroke="#f23645" stroke-width="1" opacity="0.8"/>
<rect x="683.50" y="317.7" width="5.8" height="16.80" fill="#f23645"/>
<line x1="694" y1="321.8" x2="694" y2="334.9" stroke="#089981" stroke-width="1" opacity="0.8"/>
<rect x="691.27" y="321.8" width="5.8" height="13.10" fill="#089981"/>
<line x1="702" y1="293.8" x2="702" y2="334.5" stroke="#089981" stroke-width="1" opacity="0.8"/>
<rect x="699.05" y="298.2" width="5.8" height="24.40" fill="#089981"/>
<line x1="710" y1="268.0" x2="710" y2="319.4" stroke="#089981" stroke-width="1" opacity="0.8"/>
<rect x="706.82" y="270.0" width="5.8" height="28.70" fill="#089981"/>
<line x1="717" y1="269.3" x2="717" y2="323.4" stroke="#f23645" stroke-width="1" opacity="0.8"/>
<rect x="714.59" y="269.4" width="5.8" height="39.60" fill="#f23645"/>
<line x1="725" y1="267.6" x2="725" y2="367.5" stroke="#f23645" stroke-width="1" opacity="0.8"/>
<rect x="722.37" y="309.3" width="5.8" height="18.60" fill="#f23645"/>
<line x1="733" y1="290.9" x2="733" y2="327.9" stroke="#089981" stroke-width="1" opacity="0.8"/>
<rect x="730.14" y="302.2" width="5.8" height="25.70" fill="#089981"/>
<line x1="741" y1="296.2" x2="741" y2="336.8" stroke="#f23645" stroke-width="1" opacity="0.8"/>
<rect x="737.92" y="303.2" width="5.8" height="11.80" fill="#f23645"/>
<line x1="749" y1="278.4" x2="749" y2="384.4" stroke="#f23645" stroke-width="1" opacity="0.8"/>
<rect x="745.69" y="315.0" width="5.8" height="53.10" fill="#f23645"/>
<line x1="756" y1="294.3" x2="756" y2="382.4" stroke="#089981" stroke-width="1" opacity="0.8"/>
<rect x="753.46" y="294.3" width="5.8" height="74.60" fill="#089981"/>
<line x1="764" y1="273.9" x2="764" y2="311.1" stroke="#089981" stroke-width="1" opacity="0.8"/>
<rect x="761.24" y="286.3" width="5.8" height="8.00" fill="#089981"/>
<line x1="772" y1="216.1" x2="772" y2="317.0" stroke="#089981" stroke-width="1" opacity="0.8"/>
<rect x="769.01" y="257.3" width="5.8" height="29.60" fill="#089981"/>
<line x1="780" y1="224.8" x2="780" y2="269.6" stroke="#089981" stroke-width="1" opacity="0.8"/>
<rect x="776.79" y="238.8" width="5.8" height="12.70" fill="#089981"/>
<line x1="787" y1="221.9" x2="787" y2="250.4" stroke="#f23645" stroke-width="1" opacity="0.8"/>
<rect x="784.56" y="240.3" width="5.8" height="6.60" fill="#f23645"/>
<line x1="795" y1="204.4" x2="795" y2="246.9" stroke="#089981" stroke-width="1" opacity="0.8"/>
<rect x="792.33" y="220.2" width="5.8" height="26.70" fill="#089981"/>
<line x1="803" y1="213.2" x2="803" y2="245.8" stroke="#089981" stroke-width="1" opacity="0.8"/>
<rect x="800.11" y="219.6" width="5.8" height="1.40" fill="#089981"/>
<line x1="811" y1="192.5" x2="811" y2="236.5" stroke="#089981" stroke-width="1" opacity="0.8"/>
<rect x="807.88" y="197.1" width="5.8" height="23.10" fill="#089981"/>
<line x1="819" y1="103.4" x2="819" y2="224.8" stroke="#089981" stroke-width="1" opacity="0.8"/>
<rect x="815.66" y="104.2" width="5.8" height="94.50" fill="#089981"/>
<line x1="826" y1="103.4" x2="826" y2="166.1" stroke="#f23645" stroke-width="1" opacity="0.8"/>
<rect x="823.43" y="103.4" width="5.8" height="10.90" fill="#f23645"/>
<line x1="834" y1="83.8" x2="834" y2="127.0" stroke="#089981" stroke-width="1" opacity="0.8"/>
<rect x="831.20" y="84.3" width="5.8" height="29.70" fill="#089981"/>
</svg>

<svg width="1280" height="859" viewBox="0 0 1280 859">
 <!-- symbol icon -->
 <g>
  <ellipse cx="19" cy="11.4" rx="3.8" ry="3" fill="#ffffff"/>
  <path d="M15 9.2 L22.6 8.8 Q22.6 11.2 21.6 11.6 L15.8 11.6 Z" fill="#2a6fc0"/>
  <path d="M16.5 11.6 L21.6 11.6 Q20.6 14 18 14.2 Z" fill="#e0444e"/>
  <ellipse cx="12.2" cy="15" rx="5.2" ry="4.8" fill="#fff"/>
  <path d="M7.2 12.2 Q8.2 10.2 12 10.3 L14.5 10.6 L14.5 15.9 L7.1 15.9 Z" fill="#3d8ae0"/>
  <rect x="12" y="11.2" width="5" height="1.3" fill="#e2646c"/>
  <rect x="12" y="14.1" width="5.2" height="1.6" fill="#e0444e"/>
  <path d="M8.3 17.8 L16 17.8 Q15 19.8 12.2 19.8 Q9.4 19.8 8.3 17.8 Z" fill="#d9535f"/>
 </g>
 <rect x="223.3" y="12.6" width="2.4" height="2.4" rx="0.6" fill="#1e222d"/>
 <rect x="248.5" y="12.6" width="2.4" height="2.4" rx="0.6" fill="#1e222d"/>
 <!-- green dot -->
 <circle cx="291.9" cy="12.8" r="5.6" fill="#dff3ee"/>
 <circle cx="291.9" cy="12.8" r="3.4" fill="#089981"/>
 <!-- collapse button -->
 <rect x="8.5" y="43.5" width="22.5" height="15.5" rx="1.8" fill="#fff" stroke="#dadada" stroke-width="1.1"/>
 <path d="M16 52.6 L19.1 49.5 L22.2 52.6" fill="none" stroke="#3a3a3a" stroke-width="1.4" stroke-linecap="round" stroke-linejoin="round"/>
 <!-- RUB dropdown -->
 <rect x="1231.5" y="3.5" width="45.5" height="19.8" rx="2" fill="#fff" stroke="#dcdee3" stroke-width="1"/>
 <path d="M1269.8 12.6 L1272.2 14.7 L1274.6 12.6" fill="none" stroke="#333" stroke-width="1.3" stroke-linecap="round" stroke-linejoin="round"/>
 <!-- price labels -->
 <rect x="1187.2" y="78" width="40.4" height="12.9" rx="1.5" fill="#089981"/>
 <rect x="1229" y="78" width="48.2" height="24.2" rx="1.5" fill="#089981"/>
 <!-- TV logo -->
 <path d="M9.8 814 H19.6 V825.8 H14.6 V818.8 H9.8 Z" fill="#131722"/>
 <circle cx="23.4" cy="816.3" r="2.2" fill="#131722"/>
 <path d="M28.1 814 H33.5 L30 825.8 H23.9 Z" fill="#131722"/>
 <!-- events -->
 <defs>
  <clipPath id="c1"><circle cx="833" cy="826.4" r="6.6"/></clipPath>
  <clipPath id="c2"><circle cx="842.3" cy="826.4" r="6.6"/></clipPath>
 </defs>
 <circle cx="834.2" cy="806.9" r="7.5" fill="#fff" stroke="#b45bd9" stroke-width="1.6"/>
 <path d="M834.6 802.6 L837.9 802.6 L835.9 805.9 L838.1 805.9 L832.2 811.6 L833.9 807.9 L831.3 807.9 Z" fill="#9c35d0"/>
 <circle cx="842.3" cy="826.4" r="7.4" fill="#fff" stroke="#f37a82" stroke-width="1.6"/>
 <g clip-path="url(#c2)">
  <rect x="834" y="820.6" width="16" height="1.8" fill="#ee5c66"/>
  <rect x="834" y="824.4" width="16" height="1.8" fill="#ee5c66"/>
  <rect x="834" y="828.2" width="16" height="1.8" fill="#ee5c66"/>
  <rect x="834" y="832" width="16" height="1.8" fill="#ee5c66"/>
  <rect x="838" y="818" width="4.5" height="8" fill="#3f7fd6"/>
 </g>
 <circle cx="833" cy="826.4" r="7.4" fill="#fff" stroke="#f37a82" stroke-width="1.6"/>
 <g clip-path="url(#c1)">
  <rect x="824" y="820.6" width="18" height="1.8" fill="#ee5c66"/>
  <rect x="824" y="824.4" width="18" height="1.8" fill="#ee5c66"/>
  <rect x="824" y="828.2" width="18" height="1.8" fill="#ee5c66"/>
  <rect x="824" y="832" width="18" height="1.8" fill="#ee5c66"/>
  <rect x="824" y="818" width="11" height="8.2" fill="#3f86de"/>
 </g>
 <rect x="1249.6" y="27.5" width="2.2" height="1.2" fill="#c8c8c8"/>
 <!-- settings hexagon -->
 <path d="M1251.8 843.6 H1258.2 L1261.2 848.6 L1258.2 853.6 H1251.8 L1248.8 848.6 Z" fill="none" stroke="#666" stroke-width="1.3" stroke-linejoin="round"/>
 <circle cx="1255" cy="848.6" r="1.7" fill="none" stroke="#666" stroke-width="1.2"/>
</svg>
<div class="tok" style="left:25.20px;top:5.40px;font-size:12.5px;line-height:16px;color:#1e222d;transform:scaleX(0.995)">Доллар</div>
<div class="tok" style="left:73.02px;top:5.40px;font-size:12.5px;line-height:16px;color:#1e222d;transform:scaleX(0.879)">США</div>
<div class="tok" style="left:104.00px;top:5.40px;font-size:12.5px;line-height:16px;color:#1e222d;transform:scaleX(1.050)">/</div>
<div class="tok" style="left:112.65px;top:5.40px;font-size:12.5px;line-height:16px;color:#1e222d;transform:scaleX(1.048)">Российский</div>
<div class="tok" style="left:185.27px;top:5.60px;font-size:12.5px;line-height:16px;color:#1e222d;transform:scaleX(1.031)">рубль</div>
<div class="tok" style="left:230.00px;top:5.40px;font-size:12.5px;line-height:16px;color:#1e222d;transform:scaleX(1.000)">1Д</div>
<div class="tok" style="left:253.94px;top:5.40px;font-size:12.5px;line-height:16px;color:#1e222d;transform:scaleX(0.860)">ICE</div>
<div class="tok" style="left:311.90px;top:8.25px;font-size:10px;line-height:13px;color:#1e222d;transform:scaleX(0.937)">ОТКР</div>
<div class="tok" style="left:337.11px;top:8.25px;font-size:10px;line-height:13px;color:#089981;transform:scaleX(0.991)">104,0127</div>
<div class="tok" style="left:383.33px;top:8.25px;font-size:10px;line-height:13px;color:#1e222d;transform:scaleX(0.974)">МАКС</div>
<div class="tok" style="left:410.18px;top:8.25px;font-size:10px;line-height:13px;color:#089981;transform:scaleX(1.017)">105,0017</div>
<div class="tok" style="left:456.79px;top:8.25px;font-size:10px;line-height:13px;color:#1e222d;transform:scaleX(1.014)">МИН</div>
<div class="tok" style="left:479.09px;top:8.25px;font-size:10px;line-height:13px;color:#089981;transform:scaleX(1.010)">103,5800</div>
<div class="tok" style="left:526.80px;top:8.25px;font-size:10px;line-height:13px;color:#1e222d;transform:scaleX(0.916)">ЗАКР</div>
<div class="tok" style="left:549.98px;top:8.25px;font-size:10px;line-height:13px;color:#089981;transform:scaleX(1.024)">104,9938</div>
<div class="tok" style="left:598.20px;top:8.25px;font-size:10px;line-height:13px;color:#089981;transform:scaleX(0.975)">+1,0026 (+0,96%)</div>
<div style="left:8.2px;top:28px;font-size:9.2px;line-height:11px;color:#2a2a2a;transform-origin:0 0;transform:scaleX(1.08)">Объём</div>
<div style="left:45px;top:28px;font-size:9.2px;line-height:11px;color:#4fb8a4;transform-origin:0 0;transform:scaleX(1.08)">0</div>
<div style="left:1234px;top:7px;font-size:9.5px;line-height:12px;color:#131722;transform-origin:0 0;transform:scaleX(0.88)">RUB</div>
<div style="left:1190.3px;top:79.3px;font-size:10px;line-height:12px;color:#fff;transform-origin:0 0;transform:scaleX(0.805)">USDRUB</div>
<div style="left:1234.9px;top:78.8px;font-size:10px;line-height:12px;color:#fff;transform-origin:0 0;transform:scaleX(0.905)">104,9938</div>
<div style="left:1234.9px;top:89.6px;font-size:10px;line-height:12px;color:#fff;transform-origin:0 0;transform:scaleX(0.92)">14:01:56</div>
<div class="pl" style="top:47.2px">106,0000</div>
<div class="pl" style="top:107.4px">104,0000</div>
<div class="pl" style="top:138.0px">103,0000</div>
<div class="pl" style="top:168.8px">102,0000</div>
<div class="pl" style="top:200.0px">101,0000</div>
<div class="pl" style="top:231.4px">100,0000</div>
<div class="pl" style="top:263.2px">99,0000</div>
<div class="pl" style="top:295.3px">98,0000</div>
<div class="pl" style="top:327.8px">97,0000</div>
<div class="pl" style="top:360.5px">96,0000</div>
<div class="pl" style="top:393.6px">95,0000</div>
<div class="pl" style="top:427.1px">94,0000</div>
<div class="pl" style="top:460.9px">93,0000</div>
<div class="pl" style="top:495.1px">92,0000</div>
<div class="pl" style="top:529.7px">91,0000</div>
<div class="pl" style="top:564.6px">90,0000</div>
<div class="pl" style="top:599.9px">89,0000</div>
<div class="pl" style="top:628.5px">88,2000</div>
<div class="pl" style="top:657.3px">87,4000</div>
<div class="pl" style="top:686.4px">86,6000</div>
<div class="pl" style="top:715.7px">85,8000</div>
<div class="pl" style="top:741.6px">85,1000</div>
<div class="pl" style="top:767.7px">84,4000</div>
<div class="pl" style="top:792.2px">83,7500</div>
<div class="pl" style="top:816.8px">83,1000</div>
<div class="tl" style="left:-19.9px">Июл</div>
<div class="tl" style="left:57.8px">15</div>
<div class="tl" style="left:158.9px">Авг</div>
<div class="tl" style="left:252.1px">19</div>
<div class="tl" style="left:329.9px">Сен</div>
<div class="tl" style="left:407.6px">16</div>
<div class="tl" style="left:493.1px">Окт</div>
<div class="tl" style="left:563.1px">14</div>
<div class="tl" style="left:671.9px">Ноя</div>
<div class="tl" style="left:757.5px">18</div>
<div class="tl" style="left:835.2px">Дек</div>
<div class="tl" style="left:912.9px">16</div>
<div class="tl" style="left:1006.2px">2025</div>
<div class="tl" style="left:1107.3px">20</div>
<div class="tl" style="left:1185.0px">Фев</div>
</body></html>
